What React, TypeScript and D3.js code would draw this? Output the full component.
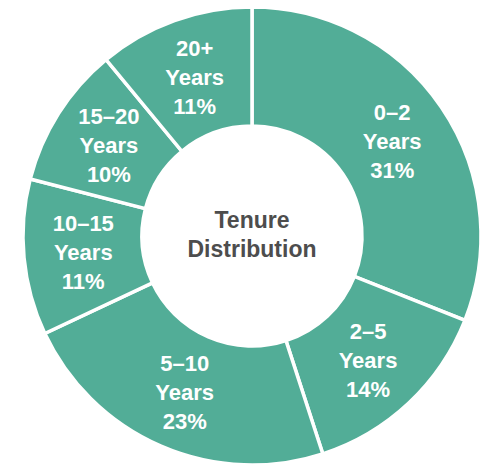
import React from 'react';
import * as d3 from 'd3';

const width = 488;
const height = 464;
const cx = 252;
const cy = 236;
const outerRadius = 229;
const innerRadius = 110;

// tenure buckets, clockwise from 12 o'clock
const categories = ['0–2', '2–5', '5–10', '10–15', '15–20', '20+'];
const shares = [31, 14, 23, 11, 10, 11];
const centerLines = ['Tenure', 'Distribution'];

const fill = '#52ad97';

export default function App() {
  const data = categories.map((label, i) => ({ label, value: shares[i] }));

  const pieGenerator = d3
    .pie<{ label: string; value: number }>()
    .sort(null)
    .value((d) => d.value);

  const arcGenerator = d3
    .arc<d3.PieArcDatum<{ label: string; value: number }>>()
    .innerRadius(innerRadius)
    .outerRadius(outerRadius);

  const arcs = pieGenerator(data);

  return (
    <svg
      width={width}
      height={height}
      style={{ position: 'absolute', left: 0, top: 0 }}
      fontFamily="'Liberation Sans', Arial, sans-serif"
    >
      <rect width={width} height={height} fill="#ffffff" />
      <g transform={`translate(${cx}, ${cy})`}>
        {arcs.map((a) => (
          <path
            key={a.data.label}
            d={arcGenerator(a) || ''}
            fill={fill}
            stroke="#ffffff"
            strokeWidth={3.5}
          />
        ))}
        {arcs.map((a) => {
          const [x, y] = arcGenerator.centroid(a);
          const lines = [a.data.label, 'Years', `${a.data.value}%`];
          return (
            <text
              key={`t-${a.data.label}`}
              textAnchor="middle"
              fill="#ffffff"
              fontSize={22}
              fontWeight="bold"
            >
              {lines.map((l, i) => (
                <tspan key={i} x={x} y={y + (i - 1) * 29 + 8}>
                  {l}
                </tspan>
              ))}
            </text>
          );
        })}
        <text textAnchor="middle" fill="#4d4d4d" fontSize={23} fontWeight="bold">
          {centerLines.map((l, i) => (
            <tspan key={i} x={0} y={-8 + i * 29}>
              {l}
            </tspan>
          ))}
        </text>
      </g>
    </svg>
  );
}
